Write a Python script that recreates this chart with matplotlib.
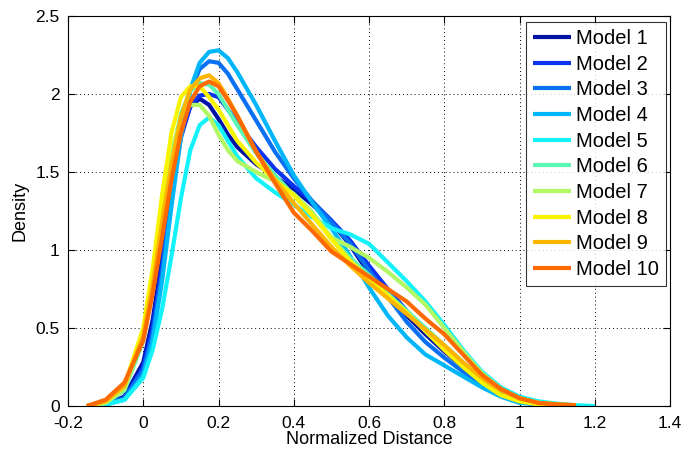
import numpy as np
import matplotlib
matplotlib.use("Agg")
import matplotlib.pyplot as plt

nan = np.nan
x = [-0.15, -0.1, -0.05, 0.0, 0.025, 0.05, 0.075, 0.1, 0.125, 0.15, 0.175, 0.2, 0.225,
     0.25, 0.3, 0.35, 0.4, 0.45, 0.5, 0.55, 0.6, 0.65, 0.7, 0.75, 0.8, 0.85, 0.9, 0.95,
     1.0, 1.05, 1.1, 1.15, 1.2]

model1 = [0.0, 0.01, 0.06, 0.28, 0.55, 0.95, 1.4, 1.75, 1.92, 1.97, 1.93, 1.84, 1.74, 1.66,
          1.55, 1.47, 1.39, 1.29, 1.18, 1.03, 0.85, 0.71, 0.58, 0.46, 0.35, 0.25, 0.15, 0.08,
          0.03, 0.01, 0.0, nan, nan]
model2 = [0.0, 0.01, 0.05, 0.25, 0.5, 0.9, 1.35, 1.72, 1.92, 1.99, 2.0, 1.98, 1.9, 1.82,
          1.66, 1.52, 1.41, 1.31, 1.19, 1.06, 0.9, 0.75, 0.61, 0.48, 0.36, 0.25, 0.15, 0.08,
          0.03, 0.01, 0.0, nan, nan]
model3 = [0.0, 0.01, 0.05, 0.23, 0.46, 0.85, 1.33, 1.75, 2.02, 2.16, 2.21, 2.2, 2.13, 2.03,
          1.83, 1.63, 1.46, 1.31, 1.18, 1.04, 0.87, 0.7, 0.54, 0.41, 0.31, 0.22, 0.14, 0.07,
          0.03, 0.01, 0.0, nan, nan]
model4 = [0.0, 0.01, 0.04, 0.2, 0.42, 0.8, 1.28, 1.72, 2.03, 2.2, 2.27, 2.28, 2.23, 2.14,
          1.93, 1.7, 1.48, 1.3, 1.14, 0.96, 0.76, 0.58, 0.44, 0.33, 0.26, 0.19, 0.12, 0.06,
          0.02, 0.01, 0.0, nan, nan]
model5 = [0.0, 0.01, 0.04, 0.18, 0.36, 0.62, 0.96, 1.33, 1.64, 1.8, 1.85, 1.8, 1.7, 1.6,
          1.46, 1.37, 1.29, 1.21, 1.14, 1.1, 1.04, 0.92, 0.8, 0.67, 0.52, 0.36, 0.22, 0.12,
          0.06, 0.03, 0.015, 0.005, 0.0]
model6 = [0.0, 0.02, 0.1, 0.42, 0.75, 1.18, 1.58, 1.87, 2.02, 2.07, 2.06, 2.0, 1.9, 1.8,
          1.62, 1.48, 1.35, 1.22, 1.08, 0.95, 0.84, 0.72, 0.61, 0.5, 0.39, 0.28, 0.18, 0.1,
          0.04, 0.02, 0.01, nan, nan]
model7 = [0.0, 0.02, 0.11, 0.45, 0.8, 1.25, 1.62, 1.85, 1.93, 1.93, 1.86, 1.74, 1.64, 1.57,
          1.5, 1.44, 1.36, 1.24, 1.08, 1.02, 0.95, 0.86, 0.76, 0.65, 0.5, 0.35, 0.21, 0.11,
          0.05, 0.02, 0.01, nan, nan]
model8 = [0.0, 0.03, 0.13, 0.5, 0.88, 1.35, 1.75, 1.98, 2.05, 2.05, 1.98, 1.9, 1.8, 1.7,
          1.56, 1.45, 1.35, 1.22, 1.07, 0.93, 0.82, 0.71, 0.6, 0.48, 0.36, 0.25, 0.15, 0.07,
          0.03, 0.01, 0.0, nan, nan]
model9 = [0.0, 0.03, 0.13, 0.45, 0.78, 1.18, 1.55, 1.85, 2.03, 2.1, 2.12, 2.07, 1.97, 1.86,
          1.63, 1.45, 1.3, 1.16, 1.02, 0.9, 0.79, 0.69, 0.59, 0.49, 0.39, 0.28, 0.18, 0.1,
          0.05, 0.02, 0.01, 0.005, nan]
model10 = [0.0, 0.04, 0.15, 0.42, 0.72, 1.08, 1.45, 1.75, 1.95, 2.05, 2.08, 2.05, 1.96, 1.86,
           1.63, 1.43, 1.24, 1.12, 0.99, 0.91, 0.83, 0.75, 0.67, 0.56, 0.46, 0.33, 0.2, 0.11,
           0.05, 0.02, 0.01, 0.005, nan]

series = [model1, model2, model3, model4, model5, model6, model7, model8, model9, model10]
labels = ["Model 1", "Model 2", "Model 3", "Model 4", "Model 5", "Model 6", "Model 7",
          "Model 8", "Model 9", "Model 10"]
colors = ["#0012A6", "#0A34F0", "#0A70F2", "#00B6FA", "#12F2F8", "#5CF5B2", "#B2F864",
          "#F8F400", "#FFB400", "#FF6A00"]

xticks = [-0.2, 0, 0.2, 0.4, 0.6, 0.8, 1, 1.2, 1.4]
xticklabels = ["-0.2", "0", "0.2", "0.4", "0.6", "0.8", "1", "1.2", "1.4"]
yticks = [0, 0.5, 1, 1.5, 2, 2.5]
yticklabels = ["0", "0.5", "1", "1.5", "2", "2.5"]

plt.rcParams['font.family'] = ['Liberation Sans', 'DejaVu Sans']

fig = plt.figure(figsize=(6.83, 4.54), dpi=100)
ax = fig.add_axes([68 / 683, 48 / 454, 602 / 683, 390 / 454])

for ys, lab, c in zip(series, labels, colors):
    ax.plot(x, ys, color=c, lw=3.0, label=lab, solid_joinstyle='round', solid_capstyle='butt')

ax.set_xlim(-0.2, 1.4)
ax.set_ylim(0, 2.5)
ax.set_xticks(xticks)
ax.set_xticklabels(xticklabels)
ax.set_yticks(yticks)
ax.set_yticklabels(yticklabels)
ax.tick_params(direction='in', top=True, right=True, length=5, width=0.8,
               labelsize=12.5)
ax.tick_params(axis='x', pad=7)
ax.tick_params(axis='y', pad=6)
ax.grid(True, color='black', linestyle=(0, (1, 3)), linewidth=0.7)
for s in ax.spines.values():
    s.set_linewidth(0.8)
ax.set_xlabel("Normalized Distance", fontsize=13, labelpad=0)
ax.set_ylabel("Density", fontsize=13, labelpad=5)

leg = ax.legend(loc='upper right', bbox_to_anchor=(598 / 602, 384 / 390), borderaxespad=0,
                fontsize=14.5, frameon=True, fancybox=False, edgecolor='black',
                handlelength=1.9, handletextpad=0.25, labelspacing=0.33, borderpad=0.35)
leg.get_frame().set_linewidth(0.8)

fig.savefig("out.png", dpi=100)
